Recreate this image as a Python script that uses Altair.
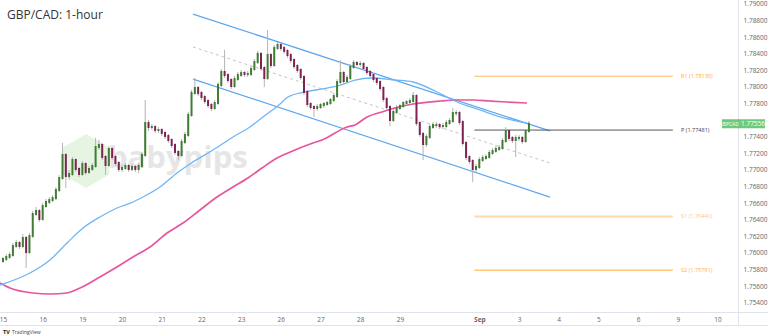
import altair as alt
import pandas as pd

title_text = "GBP/CAD: 1-hour"
watermark_text = "babypips"
brand_text = "TradingView"
symbol_text = "GBPCAD"

# 2-hour candles, hours counted from Aug 15 00:00 (trading hours only)
bar_hours = list(range(0, 320, 2))
first_open = 1.75904
closes = [
    1.75928, 1.75952, 1.75976, 1.76084, 1.76120, 1.76084, 1.76181, 1.76012, 1.76205, 1.76470,
    1.76506, 1.76410, 1.76566, 1.76614, 1.76638, 1.76662, 1.76759, 1.76903, 1.77181, 1.76927,
    1.76952, 1.77120, 1.77012, 1.76952, 1.77072, 1.76976, 1.77012, 1.77048, 1.77277, 1.77301,
    1.77157, 1.77060, 1.77253, 1.77157, 1.77084, 1.77012, 1.77024, 1.77048, 1.77012, 1.77036,
    1.77012, 1.77048, 1.77181, 1.77566, 1.77518, 1.77518, 1.77482, 1.77482, 1.77446, 1.77410,
    1.77361, 1.77301, 1.77217, 1.77181, 1.77337, 1.77422, 1.77663, 1.77928, 1.77988, 1.77928,
    1.77879, 1.77831, 1.77783, 1.77747, 1.77807, 1.78024, 1.78181, 1.78144, 1.78084, 1.78012,
    1.78096, 1.78144, 1.78169, 1.78157, 1.78157, 1.78217, 1.78301, 1.78398, 1.78229, 1.78108,
    1.78385, 1.78265, 1.78470, 1.78506, 1.78470, 1.78434, 1.78385, 1.78325, 1.78253, 1.78205,
    1.78120, 1.77940, 1.77795, 1.77759, 1.77747, 1.77759, 1.77783, 1.77795, 1.77807, 1.77843,
    1.77891, 1.78060, 1.78169, 1.78072, 1.78108, 1.78241, 1.78289, 1.78277, 1.78277, 1.78229,
    1.78181, 1.78144, 1.78096, 1.78060, 1.77988, 1.77855, 1.77759, 1.77602, 1.77699, 1.77747,
    1.77771, 1.77807, 1.77819, 1.77831, 1.77891, 1.77566, 1.77434, 1.77313, 1.77398, 1.77518,
    1.77542, 1.77542, 1.77530, 1.77530, 1.77566, 1.77590, 1.77687, 1.77687, 1.77578, 1.77325,
    1.77157, 1.77108, 1.77012, 1.77036, 1.77120, 1.77144, 1.77157, 1.77205, 1.77229, 1.77253,
    1.77265, 1.77349, 1.77470, 1.77386, 1.77361, 1.77386, 1.77386, 1.77349, 1.77470, 1.77556,
]
highs = [
    1.75952, 1.75988, 1.76012, 1.76120, 1.76157, 1.76145, 1.76229, 1.76205, 1.76241, 1.76506,
    1.76554, 1.76530, 1.76602, 1.76650, 1.76674, 1.76698, 1.76795, 1.76940, 1.77325, 1.77205,
    1.77000, 1.77157, 1.77144, 1.77036, 1.77108, 1.77096, 1.77048, 1.77084, 1.77386, 1.77361,
    1.77325, 1.77181, 1.77289, 1.77277, 1.77181, 1.77108, 1.77060, 1.77084, 1.77072, 1.77072,
    1.77060, 1.77084, 1.77217, 1.77843, 1.77602, 1.77554, 1.77542, 1.77518, 1.77506, 1.77470,
    1.77434, 1.77386, 1.77325, 1.77241, 1.77374, 1.77458, 1.77699, 1.77964, 1.78108, 1.78012,
    1.77952, 1.77904, 1.77855, 1.77807, 1.77843, 1.78060, 1.78217, 1.78446, 1.78169, 1.78108,
    1.78132, 1.78181, 1.78205, 1.78193, 1.78193, 1.78253, 1.78337, 1.78434, 1.78422, 1.78253,
    1.78687, 1.78410, 1.78506, 1.78542, 1.78530, 1.78494, 1.78458, 1.78410, 1.78349, 1.78277,
    1.78229, 1.78144, 1.77964, 1.77819, 1.77783, 1.77795, 1.77807, 1.77819, 1.77831, 1.77867,
    1.77928, 1.78096, 1.78325, 1.78193, 1.78144, 1.78277, 1.78325, 1.78313, 1.78313, 1.78301,
    1.78253, 1.78205, 1.78169, 1.78120, 1.78084, 1.78012, 1.77879, 1.77783, 1.77735, 1.77783,
    1.77795, 1.77831, 1.77843, 1.77867, 1.77940, 1.77916, 1.77590, 1.77458, 1.77434, 1.77554,
    1.77578, 1.77578, 1.77566, 1.77566, 1.77602, 1.77626, 1.77747, 1.77723, 1.77711, 1.77602,
    1.77349, 1.77181, 1.77132, 1.77072, 1.77157, 1.77181, 1.77193, 1.77241, 1.77265, 1.77289,
    1.77301, 1.77386, 1.77518, 1.77494, 1.77410, 1.77422, 1.77422, 1.77410, 1.77494, 1.77590,
]
lows = [
    1.75880, 1.75904, 1.75928, 1.75952, 1.76060, 1.76048, 1.76060, 1.75819, 1.75988, 1.76181,
    1.76446, 1.76374, 1.76386, 1.76542, 1.76590, 1.76614, 1.76638, 1.76735, 1.76879, 1.76783,
    1.76879, 1.76927, 1.76976, 1.76915, 1.76927, 1.76940, 1.76952, 1.76988, 1.77024, 1.77241,
    1.77120, 1.76940, 1.77036, 1.77120, 1.77048, 1.76976, 1.76976, 1.77000, 1.76976, 1.76988,
    1.76976, 1.76964, 1.77024, 1.77157, 1.77470, 1.77482, 1.77446, 1.77446, 1.77410, 1.77374,
    1.77325, 1.77265, 1.77181, 1.77120, 1.77157, 1.77313, 1.77398, 1.77639, 1.77904, 1.77891,
    1.77843, 1.77795, 1.77747, 1.77711, 1.77723, 1.77783, 1.78000, 1.78108, 1.78048, 1.77976,
    1.77988, 1.78072, 1.78120, 1.78120, 1.78120, 1.78132, 1.78193, 1.78277, 1.78193, 1.78000,
    1.78084, 1.78229, 1.78241, 1.78446, 1.78434, 1.78398, 1.78349, 1.78289, 1.78217, 1.78169,
    1.78084, 1.77904, 1.77759, 1.77723, 1.77639, 1.77711, 1.77735, 1.77747, 1.77771, 1.77783,
    1.77819, 1.77867, 1.78036, 1.78036, 1.78048, 1.78084, 1.78217, 1.78253, 1.78241, 1.78205,
    1.78144, 1.78108, 1.78060, 1.78024, 1.77952, 1.77819, 1.77723, 1.77530, 1.77578, 1.77675,
    1.77723, 1.77747, 1.77783, 1.77795, 1.77807, 1.77530, 1.77398, 1.77120, 1.77277, 1.77374,
    1.77494, 1.77506, 1.77494, 1.77494, 1.77506, 1.77542, 1.77566, 1.77651, 1.77542, 1.77289,
    1.77120, 1.77072, 1.76855, 1.76976, 1.77012, 1.77096, 1.77120, 1.77132, 1.77181, 1.77205,
    1.77229, 1.77241, 1.77325, 1.77349, 1.77325, 1.77157, 1.77349, 1.77313, 1.77325, 1.77446,
]

ma100_hours = [-1.8, 16.3, 28.4, 38.7, 48.4, 58.6, 68.9, 78.6, 84.6, 94.9, 105.2, 114.9, 127.0, 139.1, 149.3,
               157.2, 167.5, 172.3, 182.6, 192.9, 202.5, 212.8, 223.1, 237.0, 247.9, 262.4, 274.5, 288.4, 300.5, 316.8]
ma100_values = [1.75614, 1.75759, 1.75916, 1.76120, 1.76301, 1.76434, 1.76542, 1.76614, 1.76674, 1.76795,
                1.76964, 1.77096, 1.77241, 1.77398, 1.77518, 1.77639, 1.77795, 1.77879, 1.77940, 1.77976,
                1.78012, 1.78084, 1.78108, 1.78084, 1.78060, 1.77940, 1.77819, 1.77723, 1.77639, 1.77566]

ma200_hours = [-1.8, 4.2, 18.1, 28.4, 38.7, 46.6, 58.6, 68.9, 78.6, 88.9, 99.2, 108.8, 119.1, 129.4, 139.1, 148.1,
               156.6, 165.7, 172.3, 187.4, 192.9, 208.0, 212.8, 220.1, 229.1, 237.0, 247.9, 264.2, 274.5, 284.2,
               294.4, 304.7, 316.8]
ma200_values = [1.75638, 1.75578, 1.75518, 1.75506, 1.75518, 1.75578, 1.75711, 1.75831, 1.75952, 1.76072,
                1.76241, 1.76361, 1.76518, 1.76674, 1.76795, 1.76903, 1.77024, 1.77144, 1.77205, 1.77325,
                1.77361, 1.77518, 1.77542, 1.77639, 1.77699, 1.77747, 1.77795, 1.77831, 1.77843, 1.77843,
                1.77831, 1.77819, 1.77807]

channel_hours = [114.9, 330.7]
channel_upper = [1.78879, 1.77470]
channel_middle = [1.78482, 1.77084]
channel_lower = [1.78096, 1.76674]

pivot_names = ["R1", "P", "S1", "S2"]
pivot_values = [1.78130, 1.77481, 1.76440, 1.75791]
pivot_start = 285
pivot_end = 405
pivot_label_hour = 410

day_ticks = [0, 24, 48, 72, 96, 120, 144, 168, 192, 216, 240, 288, 312, 336, 360, 384, 408, 432]
day_labels = ["15", "16", "19", "20", "21", "22", "23", "26", "27", "28", "29", "Sep", "3", "4", "5", "6", "9", "10"]
# 1.776 is hidden under the last-price tag in the reference
price_ticks = [1.754, 1.756, 1.758, 1.760, 1.762, 1.764, 1.766, 1.768, 1.770, 1.772, 1.774,
               1.778, 1.780, 1.782, 1.784, 1.786, 1.788, 1.790]

FONT = "Open Sans"
UP, DOWN, WICK = "#3f7d35", "#7e2350", "#b3b3b3"

opens = [first_open] + closes[:-1]
candles = pd.DataFrame({"h": bar_hours, "open": opens, "p": closes, "high": highs, "low": lows})
candles["up"] = [c >= o for o, c in zip(opens, closes)]

xs = alt.Scale(domain=[-1.8, 444.4], nice=False, zero=False)
ys = alt.Scale(domain=[1.75289, 1.79048], nice=False, zero=False)

label_js = "[" + ",".join(f"'{l}'" for l in day_labels) + "]"
tick_js = "[" + ",".join(str(t) for t in day_ticks) + "]"
x_axis = alt.Axis(values=day_ticks, labelExpr=f"{label_js}[indexof({tick_js}, datum.value)]",
                  domain=False, ticks=False, grid=False, labelFontSize=6.5, labelColor="#666",
                  labelPadding=4, labelFlush=False, title=None, labelFont=FONT,
                  labelFontWeight={"condition": {"test": "datum.value == 288", "value": "bold"}, "value": "normal"})
y_axis = alt.Axis(orient="right", values=price_ticks, format=".5f", domain=False, ticks=False, grid=False,
                  labelFontSize=6.5, labelColor="#666", labelPadding=5, labelFlush=False, title=None,
                  labelFont=FONT)

X = alt.X("h:Q", scale=xs, axis=x_axis)
Yp = alt.Y("p:Q", scale=ys, axis=y_axis)

one = pd.DataFrame({"t": [0]})

hexagon = "M0,-1L0.866,-0.5L0.866,0.5L0,1L-0.866,0.5L-0.866,-0.5Z"
wm_hex = alt.Chart(one).mark_point(shape=hexagon, filled=True, color="#d6ecce", opacity=0.6, size=2900).encode(
    x=alt.value(86), y=alt.value(161))
wm_text = alt.Chart(pd.DataFrame({"t": [watermark_text]})).mark_text(
    align="left", baseline="alphabetic", fontSize=31, fontWeight="bold", font=FONT, color="#dcdcdc", opacity=0.7
).encode(x=alt.value(108), y=alt.value(168), text="t:N")

ch_df = pd.DataFrame({"h": channel_hours * 2, "p": channel_upper + channel_lower,
                      "line": ["upper"] * 2 + ["lower"] * 2})
channel = alt.Chart(ch_df).mark_line(color="#5ea7ee", strokeWidth=1.3).encode(x=X, y=Yp, detail="line:N")
mid = alt.Chart(pd.DataFrame({"h": channel_hours, "p": channel_middle})).mark_line(
    color="#bdbdbd", strokeWidth=0.9, strokeDash=[3, 3]).encode(x=X, y=Yp)

ma100 = alt.Chart(pd.DataFrame({"h": ma100_hours, "p": ma100_values})).mark_line(
    color="#6fb6f5", strokeWidth=1.3, interpolate="monotone").encode(x=X, y=Yp)
ma200 = alt.Chart(pd.DataFrame({"h": ma200_hours, "p": ma200_values})).mark_line(
    color="#e8559f", strokeWidth=1.7, interpolate="monotone").encode(x=X, y=Yp)

pivot_line_colors = ["#ffb65c", "#555555", "#ffd9a8", "#ffc878"]
pivot_text_colors = ["#ffa733", "#444444", "#ffc680", "#ffb04d"]
pivot_widths = [1, 1, 2, 1.5]
pivot_layers = []
for n, v, lc, tc, w in zip(pivot_names, pivot_values, pivot_line_colors, pivot_text_colors, pivot_widths):
    d = pd.DataFrame({"p": [v], "h": [pivot_start], "h2": [pivot_end], "hl": [pivot_label_hour],
                      "label": [f"{n} ({v:.5f})"]})
    pivot_layers.append(alt.Chart(d).mark_rule(color=lc, strokeWidth=w).encode(x=X, x2="h2:Q", y=Yp))
    pivot_layers.append(alt.Chart(d).mark_text(align="left", baseline="middle", fontSize=5.5, font=FONT,
                                               color=tc).encode(
        x=alt.X("hl:Q", scale=xs, axis=x_axis), y=Yp, text="label:N"))

wicks = alt.Chart(candles).mark_rule(color=WICK, strokeWidth=1).encode(
    x=X, y=alt.Y("low:Q", scale=ys, axis=y_axis), y2="high:Q")
bodies_up = alt.Chart(candles).transform_filter("datum.up").mark_rule(
    strokeWidth=2, strokeCap="square", color=UP).encode(
    x=X, y=alt.Y("open:Q", scale=ys, axis=y_axis), y2="p:Q")
bodies_down = alt.Chart(candles).transform_filter("!datum.up").mark_rule(
    strokeWidth=2, strokeCap="square", color=DOWN).encode(
    x=X, y=alt.Y("open:Q", scale=ys, axis=y_axis), y2="p:Q")

last = pd.DataFrame({"p": [closes[-1]], "s": [symbol_text]})
tag = alt.Chart(last).mark_tick(orient="horizontal", thickness=9, size=43, color="#2fb344").encode(
    x=alt.value(743.5), y=Yp)
tag_sym = alt.Chart(last).mark_text(fontSize=5, font=FONT, color="white", baseline="middle").encode(
    x=alt.value(729), y=Yp, text="s:N")
tag_val = alt.Chart(last).mark_text(fontSize=6.5, font=FONT, color="white", baseline="middle").encode(
    x=alt.value(753), y=Yp, text=alt.Text("p:Q", format=".5f"))

frame_h = alt.Chart(pd.DataFrame({"y": [312.5, 325.5]})).mark_rule(color="#e0e3eb", strokeWidth=1).encode(
    x=alt.value(0), x2=alt.value(768), y=alt.Y("y:Q", scale=None))
frame_v = alt.Chart(one).mark_rule(color="#e0e3eb", strokeWidth=1).encode(
    x=alt.value(738.5), y=alt.value(0), y2=alt.value(325))

title = alt.Chart(pd.DataFrame({"t": [title_text]})).mark_text(
    align="left", baseline="middle", fontSize=12, font=FONT, color="#333333").encode(
    x=alt.value(7), y=alt.value(15), text="t:N")
brand_logo = alt.Chart(pd.DataFrame({"t": ["TV"]})).mark_text(
    align="left", baseline="middle", fontSize=5.5, fontWeight="bold", font=FONT, color="#222222").encode(
    x=alt.value(3), y=alt.value(332), text="t:N")
brand = alt.Chart(pd.DataFrame({"t": [brand_text]})).mark_text(
    align="left", baseline="middle", fontSize=5, font=FONT, color="#444444").encode(
    x=alt.value(12), y=alt.value(332), text="t:N")

chart = alt.layer(
    wm_hex, wm_text, mid, channel, ma200, ma100, *pivot_layers, wicks, bodies_up, bodies_down,
    frame_h, frame_v, tag, tag_sym, tag_val, title, brand_logo, brand
).properties(
    width=738, height=312,
    padding={"left": 0, "top": 0, "right": 30, "bottom": 24},
    autosize=alt.AutoSizeParams(type="none"),
    background="white",
).configure_view(stroke=None)

chart.save("out.html", embed_options={"renderer": "svg", "actions": False})
